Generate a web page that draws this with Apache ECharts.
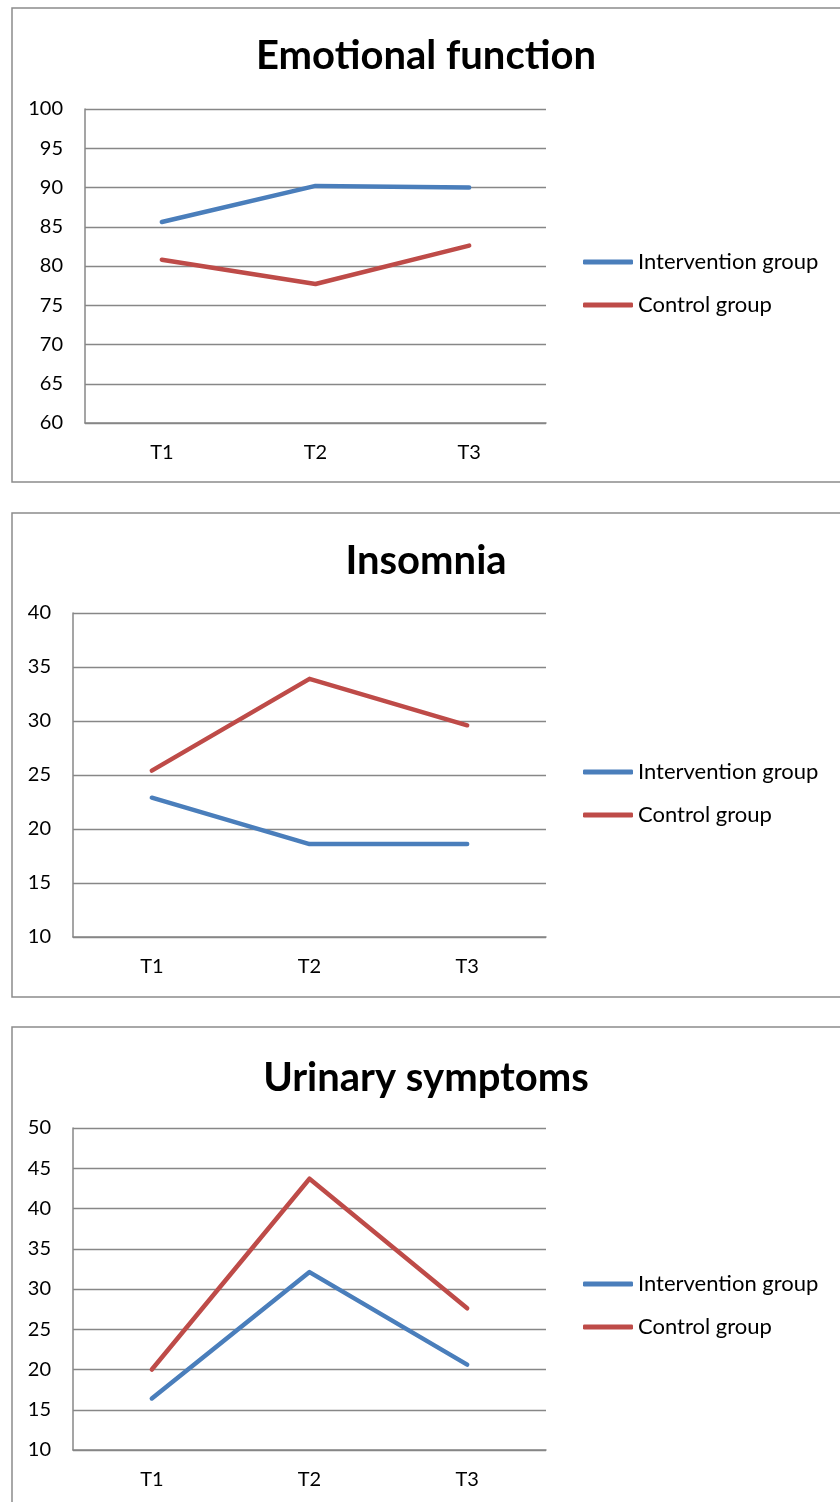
<!DOCTYPE html>
<html>
<head>
<meta charset="utf-8">
<script src="https://cdn.jsdelivr.net/npm/echarts@6/dist/echarts.min.js"></script>
<style>
html,body{margin:0;padding:0;background:#fff;}
#c{width:840px;height:1502px;}
</style>
</head>
<body>
<div id="c"></div>
<script>
const categories = ['T1', 'T2', 'T3'];
const seriesNames = ['Intervention group', 'Control group'];
const titles = ['Emotional function', 'Insomnia', 'Urinary symptoms'];
const emoIntervention = [85.6, 90.2, 90.0];
const emoControl = [80.8, 77.7, 82.6];
const insIntervention = [22.9, 18.6, 18.6];
const insControl = [25.4, 33.9, 29.6];
const uriIntervention = [16.4, 32.1, 20.6];
const uriControl = [20.0, 43.7, 27.6];
const yMin = [60, 10, 10];
const yMax = [100, 40, 50];
const yStep = [5, 5, 5];

const data = [[emoIntervention, emoControl], [insIntervention, insControl], [uriIntervention, uriControl]];

// layout
const boxes = [{y: 8, h: 474}, {y: 513, h: 484}, {y: 1027, h: 490}];
const grids = [
  {left: 85, top: 109, width: 461, height: 314},
  {left: 73, top: 613, width: 473, height: 324},
  {left: 73, top: 1128, width: 473, height: 322}
];
const titleY = [51, 556, 1073];
const legendY = [261, 771, 1283];

const FONT = 'Lato';
const colors = ['#4A7EBB', '#BE4B48'];
const gridColor = '#878787';

const option = {
  animation: false,
  backgroundColor: '#fff',
  graphic: boxes.map(b => ({
    type: 'rect', shape: {x: 12, y: b.y, width: 840, height: b.h},
    style: {fill: 'none', stroke: '#8c8c8c', lineWidth: 1.5}, silent: true, z: -10
  })),
  title: titles.map((t, i) => ({
    text: t, left: 421, top: titleY[i], textAlign: 'center', textVerticalAlign: 'middle',
    textStyle: {fontFamily: FONT, fontWeight: 'bold', fontSize: 40, color: '#000'}
  })),
  legend: titles.map((t, i) => ({
    data: seriesNames, orient: 'vertical', left: 583, top: legendY[i] - 10, padding: 0,
    icon: 'roundRect', itemWidth: 50, itemHeight: 5, itemGap: 21,
    textStyle: {fontFamily: FONT, fontSize: 22, color: '#000'},
    selectedMode: false
  })),
  grid: grids,
  xAxis: grids.map((g, i) => ({
    type: 'category', gridIndex: i, data: categories, boundaryGap: true,
    axisLine: {show: true, lineStyle: {color: gridColor, width: 1.5}},
    axisTick: {show: false},
    axisLabel: {fontFamily: FONT, fontSize: 20, color: '#000', margin: 20}
  })),
  yAxis: grids.map((g, i) => ({
    type: 'value', gridIndex: i, min: yMin[i], max: yMax[i], interval: yStep[i],
    axisLine: {show: true, lineStyle: {color: gridColor, width: 1.5}},
    axisTick: {show: false},
    splitLine: {show: true, lineStyle: {color: gridColor, width: 1.3}},
    axisLabel: {fontFamily: FONT, fontSize: 20, color: '#000', margin: 22}
  })),
  series: []
};

data.forEach((pair, i) => {
  pair.forEach((vals, j) => {
    option.series.push({
      type: 'line', name: seriesNames[j], xAxisIndex: i, yAxisIndex: i,
      data: vals, symbol: 'none', color: colors[j],
      lineStyle: {width: 4.5, color: colors[j], cap: 'round', join: 'round'}
    });
  });
});

const chart = echarts.init(document.getElementById('c'), null, {renderer: 'canvas'});
chart.setOption(option);
</script>
</body>
</html>
